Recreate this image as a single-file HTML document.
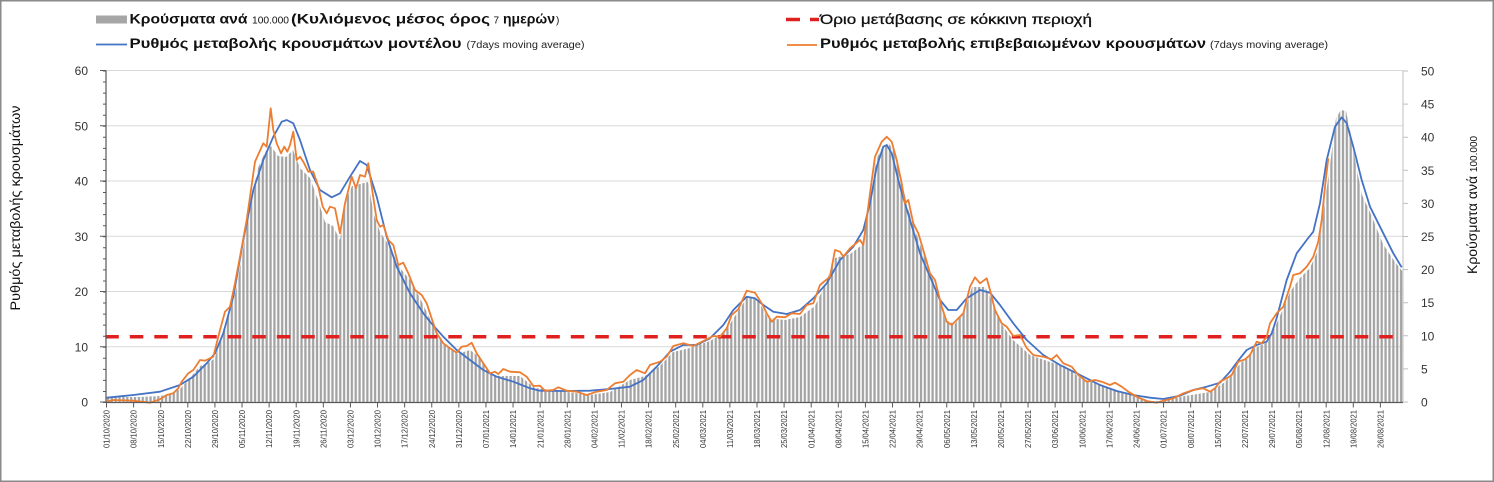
<!DOCTYPE html>
<html>
<head>
<meta charset="utf-8">
<style>
html,body{margin:0;padding:0;background:#fff;}
svg{display:block;}
</style>
</head>
<body>
<svg width="1494" height="482" viewBox="0 0 1494 482" xmlns="http://www.w3.org/2000/svg" font-family="'Liberation Sans', 'DejaVu Sans', sans-serif">
<defs>
<pattern id="bp" patternUnits="userSpaceOnUse" x="106" y="0" width="3.8716" height="482">
<rect x="0.8" y="0" width="2.3" height="482" fill="#a3a3a3"/>
</pattern>
</defs>
<rect x="0.75" y="0.75" width="1492.5" height="480.5" fill="#ffffff" stroke="#8a8a8a" stroke-width="1.5"/>

<!-- Legend -->
<rect x="96" y="15.5" width="31" height="8" fill="#a6a6a6"/>
<text x="129.5" y="23.5" font-size="14" font-weight="bold" fill="#111" textLength="118" lengthAdjust="spacingAndGlyphs">Κρούσματα ανά</text>
<text x="252" y="23.5" font-size="10" fill="#111" textLength="37" lengthAdjust="spacingAndGlyphs">100.000</text>
<text x="291" y="23.5" font-size="14" font-weight="bold" fill="#111" textLength="199" lengthAdjust="spacingAndGlyphs">(Κυλιόμενος μέσος όρος</text>
<text x="493.5" y="23.5" font-size="10" fill="#111">7</text>
<text x="503" y="23.5" font-size="14" font-weight="bold" fill="#111" textLength="52" lengthAdjust="spacingAndGlyphs">ημερών</text>
<text x="556" y="23.5" font-size="10" fill="#111">)</text>

<line x1="96" y1="44.5" x2="127" y2="44.5" stroke="#4472c4" stroke-width="1.8"/>
<text x="129.5" y="48" font-size="14" font-weight="bold" fill="#111" textLength="332" lengthAdjust="spacingAndGlyphs">Ρυθμός μεταβολής κρουσμάτων μοντέλου</text>
<text x="466.5" y="48" font-size="10" fill="#222" textLength="118" lengthAdjust="spacingAndGlyphs">(7days moving average)</text>

<line x1="786" y1="19.5" x2="800" y2="19.5" stroke="#e0201e" stroke-width="3.5"/>
<line x1="810" y1="19.5" x2="819" y2="19.5" stroke="#e0201e" stroke-width="3.5"/>
<text x="820" y="24" font-size="14" fill="#111" stroke="#111" stroke-width="0.3" textLength="272" lengthAdjust="spacingAndGlyphs">Όριο μετάβασης σε κόκκινη περιοχή</text>

<line x1="787" y1="45" x2="817" y2="45" stroke="#ed7d31" stroke-width="1.8"/>
<text x="820" y="48" font-size="14" font-weight="bold" fill="#111" textLength="386" lengthAdjust="spacingAndGlyphs">Ρυθμός μεταβολής επιβεβαιωμένων κρουσμάτων</text>
<text x="1210" y="48" font-size="10" fill="#222" textLength="118" lengthAdjust="spacingAndGlyphs">(7days moving average)</text>

<!-- Gridlines -->
<g stroke="#d9d9d9" stroke-width="1">
<line x1="106" y1="346.75" x2="1403" y2="346.75"/>
<line x1="106" y1="291.5" x2="1403" y2="291.5"/>
<line x1="106" y1="236.25" x2="1403" y2="236.25"/>
<line x1="106" y1="181" x2="1403" y2="181"/>
<line x1="106" y1="125.75" x2="1403" y2="125.75"/>
<line x1="106" y1="70.5" x2="1403" y2="70.5"/>
</g>

<!-- Bars -->
<polygon fill="url(#bp)" points="106,397 140,397 160,396 170,394 180,389 190,378 200,366 210,362 215,358 222,333 230,312 236,290 243,250 250,205 258,168 265,152 271,146 278,156 286,157 293,150 300,168 310,178 318,200 325,222 333,226 340,240 346,200 352,186 360,184 368,182 374,215 380,232 390,247 400,268 410,280 420,298 433,325 445,345 457,354 470,350 478,356 490,374 500,376 520,376 535,388 560,391 590,395 610,392 630,380 645,376 660,366 673,352 690,348 710,341 725,332 735,316 748,296 758,300 768,318 785,320 800,317 815,306 825,285 835,258 850,254 862,245 870,205 876,160 882,148 888,143 894,150 900,172 907,205 915,230 925,258 935,285 945,320 955,324 965,310 972,287 985,287 992,300 1000,322 1013,340 1030,355 1050,362 1065,366 1080,378 1100,385 1130,394 1150,401 1160,401 1185,396 1210,392 1225,382 1240,364 1255,348 1268,342 1280,316 1290,292 1300,278 1310,268 1318,250 1323,215 1330,165 1336,118 1341,110 1346,111 1351,135 1356,165 1362,195 1370,212 1383,244 1395,262 1403,272 1403,402 106,402"/>

<!-- Red threshold -->
<line x1="105.3" y1="336.7" x2="1403" y2="336.7" stroke="#e0201e" stroke-width="3.5" stroke-dasharray="13.5 11"/>

<!-- Blue model line -->
<polyline fill="none" stroke="#4472c4" stroke-width="1.8" stroke-linejoin="round" points="106.7,397.7 133.3,395 160,391.7 180,385 193.3,376.7 206.7,363.3 215,353.3 223.3,333.3 233.3,296.7 243.3,240 253.3,190 263.3,160 273.3,136.7 281.7,121.7 286.7,120 293.3,123.3 300,140 310,170 320,190 331.7,197.3 340,193.3 350,176.7 360,161 366.7,165 376.7,196.7 386.7,236.7 396.7,266.7 410,293.3 423.3,313.3 430,321.7 443.3,336.7 456.7,350 470,360 483.3,370 496.7,376.7 513.3,381.7 530,388.3 540,390.7 563.3,391 590,390.7 610,389 630,386.7 643.3,380 656.7,366.7 670,351.7 683.3,345 696.7,345 710,338.3 723.3,325 733.3,310 746.7,296.7 755,298.3 763.3,305 773.3,311.7 786.7,314 800,310 813.3,298.3 826.7,283.3 840,260 853.3,246.7 863.3,230 870,203.3 876.7,166.7 883.3,146.7 886.7,145 891.7,153.3 900,186.7 910,220 920,253.3 930,276.7 940,300 948.3,310 956.7,310 966.7,298.3 980,290 990,292.7 1000,305 1013.3,323.3 1026.7,340 1043.3,355 1060,365 1076.7,373.3 1093.3,381.7 1100,385 1116.7,391 1133.3,395 1150,397.7 1163.3,399 1180,395.7 1193.3,390 1206.7,386.7 1220,382.7 1230,371.7 1240,358.3 1246.7,350 1256.7,345 1266.7,341.7 1271.7,333.3 1276.7,318 1286.7,280 1296.7,253.3 1306.7,240 1313.3,231.7 1320,203.3 1326.7,160 1335,126.7 1341.7,117.3 1346.7,123.3 1353.3,146.7 1361.7,180 1370,206.7 1383.3,233.3 1393.3,253.3 1401.7,267.3"/>

<!-- Orange confirmed line -->
<polyline fill="none" stroke="#ed7d31" stroke-width="1.8" stroke-linejoin="round" points="106.7,401.7 113,400 133,400.7 150,402.7 160,399.3 166.7,395 173.3,393.3 178.3,388.3 181.7,381.7 188.3,373.3 193.3,370 200,360 205,360.7 210,358.3 213.3,356.7 220,330 225,311.7 230,306.7 235,283.3 240,256.7 246.7,220 255,161.7 263.3,143.3 266.7,146.7 270.7,108.3 273.3,130 276.7,143.3 281,153.3 284.3,146.7 287.3,151.7 290,145 293.3,131.7 296.7,160 300,156.7 303.3,161.7 308.3,171.7 313.3,171.7 318.3,186.7 322.7,206.7 326.7,213.3 330,206.7 335,208.3 340,233.3 345,203.3 351.7,176.7 356,188.3 360,175 365,176.7 368.3,163.3 371.7,186.7 376.7,220 380,226.7 383.3,225 388.3,240 393.3,245 398.3,265 403.3,262.7 408.3,273.3 415,290 421.7,295 426.7,303.3 433.3,323.3 436.7,333.3 443.3,343.3 450,348.3 456.7,352.7 461.7,346.7 466.7,346 471.7,342.7 476.7,353.3 483.3,363.3 490,373.3 495,371.7 498.3,374 503.3,369 510,371.7 520,372.3 526.7,376.7 533.3,386 540,385.7 545,390.7 553.3,390 558.3,387.3 566.7,390.7 576.7,391.7 586.7,395 596.7,391.7 606.7,390 615,383.3 623.3,381.7 630,375 636.7,370 645,373.3 650,365 660,361.7 666.7,356.7 673.3,346 683.3,343.3 693.3,346 700,342.7 706.7,339.3 713.3,336 720,336.7 726.7,328.3 731.7,315 738.3,309.3 746.7,290.7 755,292.7 761.7,303.3 766.7,313.3 771.7,321.7 776.7,316.7 785,317.3 791.7,313.3 800,314 806.7,305 813.3,303.3 820,285 830,276.7 835,250 840,251.7 843.3,256.7 850,248.3 860,240 863.3,245 870,193.3 875,156.7 881.7,141.7 886.7,136.7 891.7,141.7 896.7,160 901.7,183.3 905,203.3 908.3,200 913.3,223.3 918.3,233.3 923.3,250 930,273.3 935,280 941.7,306.7 946.7,321.7 951.7,325 956.7,320 963.3,313.3 970,286.7 975,277.3 980,283.3 986.7,278.3 990,290 995,310 1001.7,323.3 1006.7,326.7 1013.3,336 1020,335 1026.7,348 1033.3,355 1043.3,356.7 1051.7,359.3 1056.7,355 1063.3,363.3 1071.7,366.7 1078.3,375 1086.7,381.7 1095,380 1101.7,381.7 1110,385 1115,382.7 1121.7,386.7 1128.3,391.7 1136.7,396.7 1146.7,401 1156.7,402.7 1163.3,400.7 1173.3,398.3 1183.3,393.3 1193.3,390 1203.3,388.3 1210,391.7 1215,388.3 1220,381.7 1226.7,378.3 1231.7,375 1238.3,361.7 1245,359.3 1250,355 1256.7,341.7 1261.7,343.3 1266.7,336.7 1270,323.3 1276.7,313.3 1283.3,306.7 1290,286.7 1293.3,275 1300,273.3 1306.7,266.7 1313.3,256.7 1318.3,241.7 1321.7,220 1325,186.7 1328.3,158.3"/>

<!-- Axes -->
<line x1="106" y1="70.5" x2="106" y2="402.5" stroke="#595959" stroke-width="1.2"/>
<line x1="104.5" y1="70.5" x2="104.5" y2="403" stroke="#595959" stroke-width="3" stroke-dasharray="1 10.05"/>
<line x1="103" y1="70" x2="103" y2="403" stroke="#595959" stroke-width="6" stroke-dasharray="1 54.25"/>
<line x1="1403" y1="70.5" x2="1403" y2="402.5" stroke="#bfbfbf" stroke-width="1"/>
<line x1="1405.5" y1="70.5" x2="1405.5" y2="403" stroke="#bfbfbf" stroke-width="5" stroke-dasharray="1 32.1"/>
<line x1="106" y1="402.5" x2="1403" y2="402.5" stroke="#595959" stroke-width="1.2"/>
<line x1="106" y1="405" x2="1403" y2="405" stroke="#595959" stroke-width="5" stroke-dasharray="1 26.104"/>

<!-- Left axis labels -->
<g font-size="12" fill="#333" text-anchor="end">
<text x="88" y="406.5">0</text>
<text x="88" y="351.3">10</text>
<text x="88" y="296">20</text>
<text x="88" y="240.8">30</text>
<text x="88" y="185.5">40</text>
<text x="88" y="130.3">50</text>
<text x="88" y="75">60</text>
</g>

<!-- Right axis labels -->
<g font-size="12" fill="#333">
<text x="1421" y="406.5">0</text>
<text x="1421" y="373.4">5</text>
<text x="1421" y="340.3">10</text>
<text x="1421" y="307.2">15</text>
<text x="1421" y="274.1">20</text>
<text x="1421" y="241">25</text>
<text x="1421" y="207.9">30</text>
<text x="1421" y="174.8">35</text>
<text x="1421" y="141.7">40</text>
<text x="1421" y="108.6">45</text>
<text x="1421" y="75.5">50</text>
</g>

<!-- Axis titles -->
<text transform="translate(20,208) rotate(-90)" font-size="14" fill="#111" text-anchor="middle" textLength="205" lengthAdjust="spacingAndGlyphs">Ρυθμός μεταβολής κρουσμάτων</text>
<text transform="translate(1477,274) rotate(-90)" fill="#111"><tspan font-size="14">Κρούσματα ανά </tspan><tspan font-size="10">100.000</tspan></text>

<!-- X axis labels -->
<g font-size="8.5" fill="#333" text-anchor="end">
<text transform="translate(109.6,410) rotate(-90)" textLength="38" lengthAdjust="spacingAndGlyphs">01/10/2020</text>
<text transform="translate(136.7,410) rotate(-90)" textLength="38" lengthAdjust="spacingAndGlyphs">08/10/2020</text>
<text transform="translate(163.8,410) rotate(-90)" textLength="38" lengthAdjust="spacingAndGlyphs">15/10/2020</text>
<text transform="translate(190.9,410) rotate(-90)" textLength="38" lengthAdjust="spacingAndGlyphs">22/10/2020</text>
<text transform="translate(218,410) rotate(-90)" textLength="38" lengthAdjust="spacingAndGlyphs">29/10/2020</text>
<text transform="translate(245.1,410) rotate(-90)" textLength="38" lengthAdjust="spacingAndGlyphs">05/11/2020</text>
<text transform="translate(272.2,410) rotate(-90)" textLength="38" lengthAdjust="spacingAndGlyphs">12/11/2020</text>
<text transform="translate(299.3,410) rotate(-90)" textLength="38" lengthAdjust="spacingAndGlyphs">19/11/2020</text>
<text transform="translate(326.4,410) rotate(-90)" textLength="38" lengthAdjust="spacingAndGlyphs">26/11/2020</text>
<text transform="translate(353.5,410) rotate(-90)" textLength="38" lengthAdjust="spacingAndGlyphs">03/12/2020</text>
<text transform="translate(380.6,410) rotate(-90)" textLength="38" lengthAdjust="spacingAndGlyphs">10/12/2020</text>
<text transform="translate(407.7,410) rotate(-90)" textLength="38" lengthAdjust="spacingAndGlyphs">17/12/2020</text>
<text transform="translate(434.8,410) rotate(-90)" textLength="38" lengthAdjust="spacingAndGlyphs">24/12/2020</text>
<text transform="translate(462,410) rotate(-90)" textLength="38" lengthAdjust="spacingAndGlyphs">31/12/2020</text>
<text transform="translate(489.1,410) rotate(-90)" textLength="38" lengthAdjust="spacingAndGlyphs">07/01/2021</text>
<text transform="translate(516.2,410) rotate(-90)" textLength="38" lengthAdjust="spacingAndGlyphs">14/01/2021</text>
<text transform="translate(543.3,410) rotate(-90)" textLength="38" lengthAdjust="spacingAndGlyphs">21/01/2021</text>
<text transform="translate(570.4,410) rotate(-90)" textLength="38" lengthAdjust="spacingAndGlyphs">28/01/2021</text>
<text transform="translate(597.5,410) rotate(-90)" textLength="38" lengthAdjust="spacingAndGlyphs">04/02/2021</text>
<text transform="translate(624.6,410) rotate(-90)" textLength="38" lengthAdjust="spacingAndGlyphs">11/02/2021</text>
<text transform="translate(651.7,410) rotate(-90)" textLength="38" lengthAdjust="spacingAndGlyphs">18/02/2021</text>
<text transform="translate(678.8,410) rotate(-90)" textLength="38" lengthAdjust="spacingAndGlyphs">25/02/2021</text>
<text transform="translate(705.9,410) rotate(-90)" textLength="38" lengthAdjust="spacingAndGlyphs">04/03/2021</text>
<text transform="translate(733,410) rotate(-90)" textLength="38" lengthAdjust="spacingAndGlyphs">11/03/2021</text>
<text transform="translate(760.1,410) rotate(-90)" textLength="38" lengthAdjust="spacingAndGlyphs">18/03/2021</text>
<text transform="translate(787.2,410) rotate(-90)" textLength="38" lengthAdjust="spacingAndGlyphs">25/03/2021</text>
<text transform="translate(814.3,410) rotate(-90)" textLength="38" lengthAdjust="spacingAndGlyphs">01/04/2021</text>
<text transform="translate(841.4,410) rotate(-90)" textLength="38" lengthAdjust="spacingAndGlyphs">08/04/2021</text>
<text transform="translate(868.5,410) rotate(-90)" textLength="38" lengthAdjust="spacingAndGlyphs">15/04/2021</text>
<text transform="translate(895.6,410) rotate(-90)" textLength="38" lengthAdjust="spacingAndGlyphs">22/04/2021</text>
<text transform="translate(922.7,410) rotate(-90)" textLength="38" lengthAdjust="spacingAndGlyphs">29/04/2021</text>
<text transform="translate(949.8,410) rotate(-90)" textLength="38" lengthAdjust="spacingAndGlyphs">06/05/2021</text>
<text transform="translate(976.9,410) rotate(-90)" textLength="38" lengthAdjust="spacingAndGlyphs">13/05/2021</text>
<text transform="translate(1004,410) rotate(-90)" textLength="38" lengthAdjust="spacingAndGlyphs">20/05/2021</text>
<text transform="translate(1031.1,410) rotate(-90)" textLength="38" lengthAdjust="spacingAndGlyphs">27/05/2021</text>
<text transform="translate(1058.2,410) rotate(-90)" textLength="38" lengthAdjust="spacingAndGlyphs">03/06/2021</text>
<text transform="translate(1085.3,410) rotate(-90)" textLength="38" lengthAdjust="spacingAndGlyphs">10/06/2021</text>
<text transform="translate(1112.4,410) rotate(-90)" textLength="38" lengthAdjust="spacingAndGlyphs">17/06/2021</text>
<text transform="translate(1139.6,410) rotate(-90)" textLength="38" lengthAdjust="spacingAndGlyphs">24/06/2021</text>
<text transform="translate(1166.7,410) rotate(-90)" textLength="38" lengthAdjust="spacingAndGlyphs">01/07/2021</text>
<text transform="translate(1193.8,410) rotate(-90)" textLength="38" lengthAdjust="spacingAndGlyphs">08/07/2021</text>
<text transform="translate(1220.9,410) rotate(-90)" textLength="38" lengthAdjust="spacingAndGlyphs">15/07/2021</text>
<text transform="translate(1248,410) rotate(-90)" textLength="38" lengthAdjust="spacingAndGlyphs">22/07/2021</text>
<text transform="translate(1275.1,410) rotate(-90)" textLength="38" lengthAdjust="spacingAndGlyphs">29/07/2021</text>
<text transform="translate(1302.2,410) rotate(-90)" textLength="38" lengthAdjust="spacingAndGlyphs">05/08/2021</text>
<text transform="translate(1329.3,410) rotate(-90)" textLength="38" lengthAdjust="spacingAndGlyphs">12/08/2021</text>
<text transform="translate(1356.4,410) rotate(-90)" textLength="38" lengthAdjust="spacingAndGlyphs">19/08/2021</text>
<text transform="translate(1383.5,410) rotate(-90)" textLength="38" lengthAdjust="spacingAndGlyphs">26/08/2021</text>
</g>
</svg>
</body>
</html>
